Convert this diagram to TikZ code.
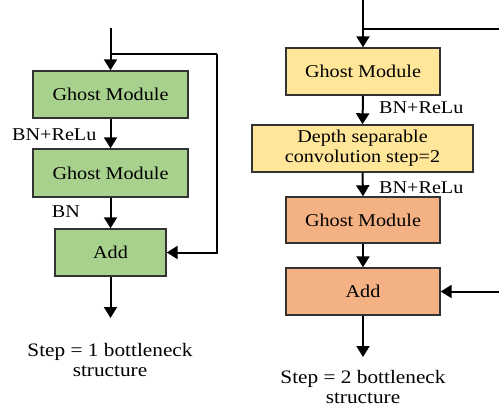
\documentclass[tikz,border=0pt]{standalone}
\usepackage{fontspec}
\setmainfont{Liberation Serif}[FakeStretch=1.12]
\usetikzlibrary{arrows.meta}
\definecolor{gbox}{HTML}{A9D18E}
\definecolor{ybox}{HTML}{FFE699}
\definecolor{obox}{HTML}{F4B183}
\definecolor{edge}{HTML}{333333}
\tikzset{
  blockbox/.style={draw=edge, line width=1.4pt, inner sep=0pt, align=center,
    font=\fontsize{18}{20}\selectfont},
  flow/.style={line width=2pt, -{Triangle[width=13pt,length=11pt]}},
  plain/.style={line width=2pt},
  lbl/.style={font=\fontsize{18}{20}\selectfont, inner sep=0pt},
  caption/.style={font=\fontsize{19}{20}\selectfont, inner sep=0pt, align=center}
}
\begin{document}
\begin{tikzpicture}[x=1pt, y=-1pt]
\useasboundingbox (0,0) rectangle (499,407);

% ---- stride 1 bottleneck ----
\node[blockbox, fill=gbox, minimum width=155pt, minimum height=47pt] (g1) at (110.5,94.5) {Ghost Module};
\node[blockbox, fill=gbox, minimum width=155pt, minimum height=48pt] (g2) at (110.5,173) {Ghost Module};
\node[blockbox, fill=gbox, minimum width=111pt, minimum height=47pt] (a1) at (110.5,252.5) {Add};
\coordinate (in1) at (110.5,28);
\coordinate (j1) at (110.5,54);
\coordinate (r1) at (217,54);
\coordinate (out1) at (110.5,318);
\draw[flow] (in1) -- (g1.north);
\draw[plain] (j1) -- (r1);
\draw[flow] (r1) |- (a1.east);
\draw[flow] (g1.south) -- (g2.north);
\draw[flow] (g2.south) -- (a1.north);
\draw[flow] (a1.south) -- (out1);
\node[lbl, anchor=west] (l1) at (12,135) {BN+ReLu};
\node[lbl] (l2) at (66,212) {BN};
\node[caption] (c1) at (110,360) {Step = 1 bottleneck\\structure};

% ---- stride 2 bottleneck ----
\node[blockbox, fill=ybox, minimum width=154pt, minimum height=47pt] (g3) at (363,71.5) {Ghost Module};
\node[blockbox, fill=ybox, minimum width=221pt, minimum height=47pt] (dw) at (362.5,148.5) {Depth separable\\convolution step=2};
\node[blockbox, fill=obox, minimum width=154pt, minimum height=46pt] (g4) at (363,220) {Ghost Module};
\node[blockbox, fill=obox, minimum width=154pt, minimum height=47pt] (a2) at (363,291.5) {Add};
\coordinate (in2) at (363,0);
\coordinate (j2) at (363,29);
\coordinate (r2) at (499,29);
\coordinate (r3) at (499,291.5);
\coordinate (out2) at (363,357);
\draw[flow] (in2) -- (g3.north);
\draw[plain] (j2) -- (r2);
\draw[flow] (r3) -- (a2.east);
\draw[flow] (g3.south) -- (dw.north);
\draw[flow] (dw.south) -- (g4.north);
\draw[flow] (g4.south) -- (a2.north);
\draw[flow] (a2.south) -- (out2);
\node[lbl, anchor=west] (l3) at (379,108) {BN+ReLu};
\node[lbl, anchor=west] (l4) at (379,188) {BN+ReLu};
\node[caption] (c2) at (363,387) {Step = 2 bottleneck\\structure};
\end{tikzpicture}
\end{document}
